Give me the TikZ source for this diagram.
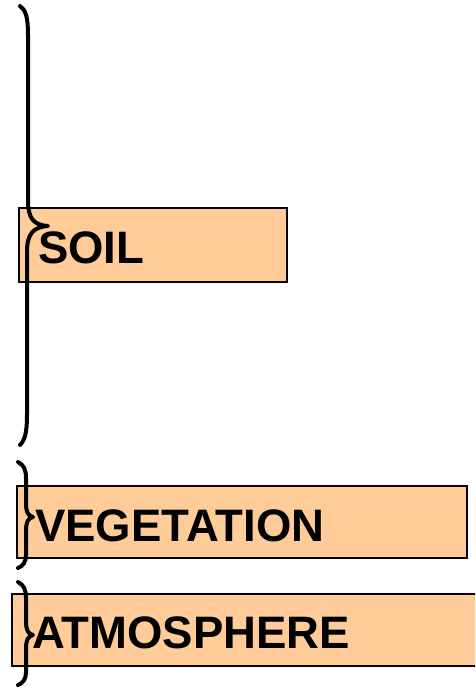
\documentclass[tikz,border=0pt]{standalone}
\usepackage{fontspec}
\setmainfont{Liberation Sans}
\definecolor{boxfill}{HTML}{FFCC99}
\begin{document}
\begin{tikzpicture}[x=1pt,y=-1pt,
  layerbox/.style={draw=black,line width=2.2pt,fill=boxfill,inner sep=0pt,anchor=north west},
  layertext/.style={inner sep=0pt,anchor=base west,font=\fontsize{45.5}{54}\selectfont\bfseries},
  bracepath/.style={draw=black,line width=4pt,line cap=round,line join=round}]
\clip (0,0) rectangle (475,687);
\node[layerbox,minimum width=268pt,minimum height=74pt] (soilbox) at (18,207) {};
\node[layerbox,minimum width=450pt,minimum height=72pt] (vegbox) at (16,485) {};
\node[layerbox,minimum width=480pt,minimum height=72pt] (atmbox) at (11,593) {};
\node[layertext] (soil) at (38,263) {SOIL};
\node[layertext] (veg) at (35,541) {VEGETATION};
\node[layertext] (atm) at (32,648) {ATMOSPHERE};
% braces
\path[bracepath] (20,6) .. controls (26,10) and (28,18) .. (28,35) -- (28,200)
  .. controls (28,218) and (33,225) .. (48,226)
  .. controls (33,227) and (27,234) .. (27,252) -- (27,415)
  .. controls (27,432) and (25,440) .. (20,445);
\path[bracepath] (18,462) .. controls (24,465) and (26,470) .. (26,478) -- (26,503)
  .. controls (26,512) and (28,516) .. (33,517)
  .. controls (28,518) and (26,522) .. (26,531) -- (26,555)
  .. controls (26,562) and (23,566) .. (18,568);
\path[bracepath] (18,582) .. controls (24,585) and (26,590) .. (26,598) -- (26,621)
  .. controls (26,630) and (28,634) .. (33,635)
  .. controls (28,636) and (26,640) .. (26,649) -- (26,672)
  .. controls (26,679) and (23,683) .. (18,685);
\end{tikzpicture}
\end{document}
